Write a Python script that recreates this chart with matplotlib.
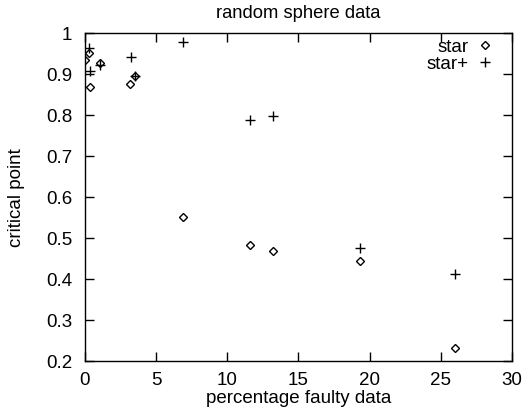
import matplotlib
matplotlib.use("Agg")
import matplotlib.pyplot as plt

plt.rcParams['font.family'] = ['Liberation Sans', 'DejaVu Sans']

star_x = [0.0, 0.3, 0.4, 1.05, 3.2, 3.55, 6.9, 11.6, 13.25, 19.3, 26.0]
star_y = [0.934, 0.951, 0.868, 0.925, 0.875, 0.893, 0.551, 0.482, 0.467, 0.442, 0.231]
starp_x = [0.3, 0.4, 1.05, 3.25, 3.55, 6.9, 11.6, 13.25, 19.3, 26.0]
starp_y = [0.962, 0.906, 0.922, 0.941, 0.895, 0.977, 0.786, 0.797, 0.474, 0.411]
xticks = [0, 5, 10, 15, 20, 25, 30]
yticks = [0.2, 0.3, 0.4, 0.5, 0.6, 0.7, 0.8, 0.9, 1.0]
yticklabels = ['0.2', '0.3', '0.4', '0.5', '0.6', '0.7', '0.8', '0.9', '1']

fig = plt.figure(figsize=(5.3, 4.1), dpi=100)
ax = fig.add_axes([0.160, 0.118, 0.806, 0.800])
ax.plot(star_x, star_y, linestyle='none', marker='D', markersize=4.5,
        markerfacecolor='white', markeredgecolor='black', markeredgewidth=1.0, label='star')
ax.plot(starp_x, starp_y, linestyle='none', marker='+', markersize=7,
        color='black', markeredgewidth=1.0, label='star+')
ax.set_xlim(0, 30)
ax.set_ylim(0.2, 1.0)
ax.set_xticks(xticks)
ax.set_yticks(yticks)
ax.set_yticklabels(yticklabels)
ax.tick_params(direction='in', length=6.5, width=1, top=True, right=True, labelsize=13.5)
ax.tick_params(axis='x', pad=7.5)
ax.tick_params(axis='y', pad=9)
for s in ax.spines.values():
    s.set_linewidth(1.0)
ax.set_xlabel('percentage faulty data', fontsize=13.5, labelpad=1)
ax.set_ylabel('critical point', fontsize=13.5, labelpad=15)
ax.set_title('random sphere data', fontsize=13.2, pad=11)
ax.legend(loc='upper right', bbox_to_anchor=(0.967, 0.995), frameon=False,
          markerfirst=False, fontsize=13.5, handlelength=1.0, handletextpad=0.35,
          labelspacing=0.0, borderaxespad=0.0, borderpad=0.2)
fig.savefig('out.png', dpi=100)
